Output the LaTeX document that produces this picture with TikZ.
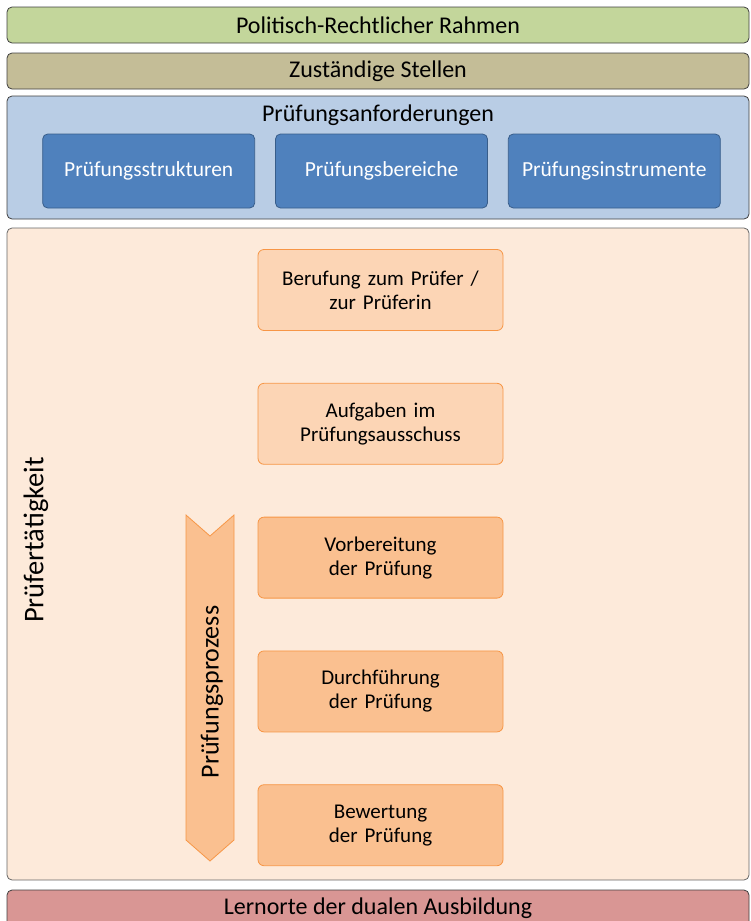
\documentclass[tikz,border=0pt]{standalone}
\usepackage{fontspec}
\setmainfont{Carlito}
\usetikzlibrary{positioning}

\definecolor{rahmengreen}{HTML}{C3D69B}
\definecolor{stellentan}{HTML}{C4BD97}
\definecolor{anfblue}{HTML}{B9CDE5}
\definecolor{boxblue}{HTML}{4F81BD}
\definecolor{boxblueline}{HTML}{385D8A}
\definecolor{pruefbg}{HTML}{FDEADA}
\definecolor{orangelight}{HTML}{FCD5B5}
\definecolor{orangemid}{HTML}{FAC090}
\definecolor{orangeline}{HTML}{F79646}
\definecolor{lernred}{HTML}{D99694}

\begin{document}
\begin{tikzpicture}[x=1pt, y=-1pt, font=\fontsize{24}{28}\selectfont,
    band/.style={draw=black!75, line width=0.8pt, rounded corners=5pt, minimum width=742pt, inner sep=0pt},
    blueitem/.style={draw=boxblueline, fill=boxblue, text=white, line width=0.8pt, rounded corners=5pt, minimum width=212pt, minimum height=74pt, inner sep=0pt, font=\fontsize{21.5}{25}\selectfont},
    taskbox/.style={draw=orangeline, line width=0.8pt, rounded corners=6pt, minimum width=245pt, minimum height=81pt, text width=238pt, align=center, inner sep=0pt, font=\fontsize{21}{24}\selectfont}]
            \useasboundingbox (0,0) rectangle (750,921);

            % Rahmen and Stellen bands
            \node[band, fill=rahmengreen, minimum height=36pt] (rahmen) at (378,25) {Politisch-Rechtlicher Rahmen};
            \node[band, fill=stellentan, minimum height=36pt] (stellen) at (378,71) {Zuständige Stellen};

            % Pruefungsanforderungen with three items
            \node[band, fill=anfblue, minimum height=123pt] (anf) at (378,157.5) {};
            \node (anftitel) at (378,115) {Prüfungsanforderungen};
            \node[blueitem] (bereiche) at (381.5,171) {Prüfungsbereiche};
            \node[blueitem, left=20pt of bereiche] (strukturen) {Prüfungsstrukturen};
            \node[blueitem, right=20pt of bereiche] (instrumente) {Prüfungsinstrumente};

            % Pruefertaetigkeit
            \node[band, draw=black!60, fill=pruefbg, minimum height=652pt] (taetigkeit) at (378,554) {};
            \node[rotate=90, font=\fontsize{28.5}{32}\selectfont] (taetigkeittitel) at (36,540) {Prüfertätigkeit};

            \node[taskbox, fill=orangelight] (berufung) at (380.5,290) {Berufung zum Prüfer /\\zur Prüferin};
            \node[taskbox, fill=orangelight, below=52pt of berufung] (aufgaben) {Aufgaben im\\Prüfungsausschuss};
            \node[taskbox, fill=orangemid, below=52pt of aufgaben] (vorbereitung) {Vorbereitung\\der Prüfung};
            \node[taskbox, fill=orangemid, below=52pt of vorbereitung] (durchfuehrung) {Durchführung\\der Prüfung};
            \node[taskbox, fill=orangemid, below=52pt of durchfuehrung] (bewertung) {Bewertung\\der Prüfung};

            % Prozess chevron
            \draw[draw=orangeline, fill=orangemid, line width=0.8pt] (186,515) -- (210,536) -- (234,515) -- (234,840) -- (210,861) -- (186,840) -- cycle;
            \node[rotate=90, font=\fontsize{26}{30}\selectfont] (prozess) at (212,692) {Prüfungsprozess};

            % Lernorte band
            \node[band, fill=lernred, minimum height=44pt] (lernorte) at (378,912) {};
            \node (lernortetitel) at (378,908) {Lernorte der dualen Ausbildung};
\end{tikzpicture}
\end{document}
